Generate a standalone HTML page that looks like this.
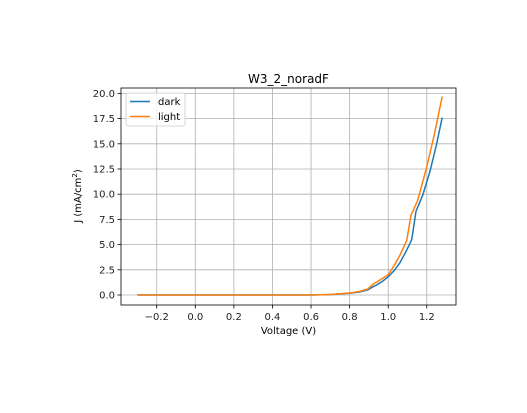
<!DOCTYPE html>
<html><head><meta charset="utf-8"><style>
body{margin:0;background:#fff;font-family:"Liberation Sans","DejaVu Sans",sans-serif}
</style></head><body>
<svg id="chart" width="527" height="408" xmlns="http://www.w3.org/2000/svg" font-family="'DejaVu Sans','Liberation Sans',sans-serif">
<rect width="527" height="408" fill="#fff"/>
<g id="grid"></g>
<g id="series"></g>
<rect x="121" y="88" width="335" height="217" fill="none" stroke="#000" stroke-width="0.8"/>
<g id="ticks" font-size="10" fill="#222"></g>
<text x="288.5" y="83" text-anchor="middle" font-size="12">W3_2_noradF</text>
<text x="288.5" y="334" text-anchor="middle" font-size="10">Voltage (V)</text>
<text transform="translate(81,196) rotate(-90)" text-anchor="middle" font-size="10">J (mA/cm<tspan dy="-4" font-size="7">2</tspan><tspan dy="4">)</tspan></text>
<g>
<rect x="126" y="93" width="59" height="33" fill="#fff" fill-opacity="0.8" stroke="#ccc" stroke-width="0.8" rx="2"/>
<line x1="130" y1="101.5" x2="150" y2="101.5" stroke="#1f77b4" stroke-width="1.5"/>
<text x="158" y="105" font-size="10">dark</text>
<line x1="130" y1="116.5" x2="150" y2="116.5" stroke="#ff7f0e" stroke-width="1.5"/>
<text x="158" y="120" font-size="10">light</text>
</g>
</svg>
<script>
const xTicks=[-0.2,0.0,0.2,0.4,0.6,0.8,1.0,1.2];
const yTicks=[0,2.5,5,7.5,10,12.5,15,17.5,20];
const darkV=[-0.3,0.0,0.3,0.6,0.7,0.8,0.85,0.894,0.92,0.94,0.97,1.0,1.03,1.061,1.096,1.122,1.144,1.179,1.217,1.25,1.28];
const darkJ=[0,0,0,0,0.05,0.17,0.3,0.5,0.8,1.0,1.35,1.8,2.4,3.2,4.46,5.5,8.3,9.9,12.3,14.9,17.6];
const lightV=[-0.3,0.0,0.3,0.6,0.7,0.8,0.85,0.895,0.923,0.95,0.97,1.0,1.03,1.061,1.096,1.118,1.153,1.2,1.24,1.28];
const lightJ=[0,0,0,0,0.05,0.2,0.35,0.6,1.1,1.4,1.65,2.0,2.9,3.95,5.4,7.9,9.4,12.7,16.0,19.7];
const X=v=>195.3+v*192.9, Y=j=>295-j*10.08;
const NS="http://www.w3.org/2000/svg";
const grid=document.getElementById('grid'),ticks=document.getElementById('ticks'),ser=document.getElementById('series');
function mk(t,a,p){const e=document.createElementNS(NS,t);for(const k in a)e.setAttribute(k,a[k]);p.appendChild(e);return e;}
xTicks.forEach(v=>{const x=X(v);
 const g=mk('line',{x1:x,x2:x,y1:88,y2:305,stroke:'#b0b0b0','stroke-width':0.8},grid);
 
 
 mk('line',{x1:x,x2:x,y1:305,y2:308.5,stroke:'#000','stroke-width':0.8},ticks);
 const t=mk('text',{x:x,y:320,'text-anchor':'middle'},ticks);t.textContent=(v<0?'\u2212':'')+Math.abs(v).toFixed(1);
 
 });
yTicks.forEach(v=>{const y=Y(v);
 const g=mk('line',{x1:121,x2:456,y1:y,y2:y,stroke:'#b0b0b0','stroke-width':0.8},grid);
 
 
 mk('line',{x1:117.5,x2:121,y1:y,y2:y,stroke:'#000','stroke-width':0.8},ticks);
 const t=mk('text',{x:115,y:y+3.5,'text-anchor':'end'},ticks);t.textContent=v.toFixed(1);
 
 });
function line(V,J,c,n){const p=mk('polyline',{points:V.map((v,i)=>X(v)+','+Y(J[i])).join(' '),fill:'none',stroke:c,'stroke-width':1.5},ser);
 
 }
line(darkV,darkJ,'#1f77b4','dark-line');
line(lightV,lightJ,'#ff7f0e','light-line');
</script>
</body></html>
